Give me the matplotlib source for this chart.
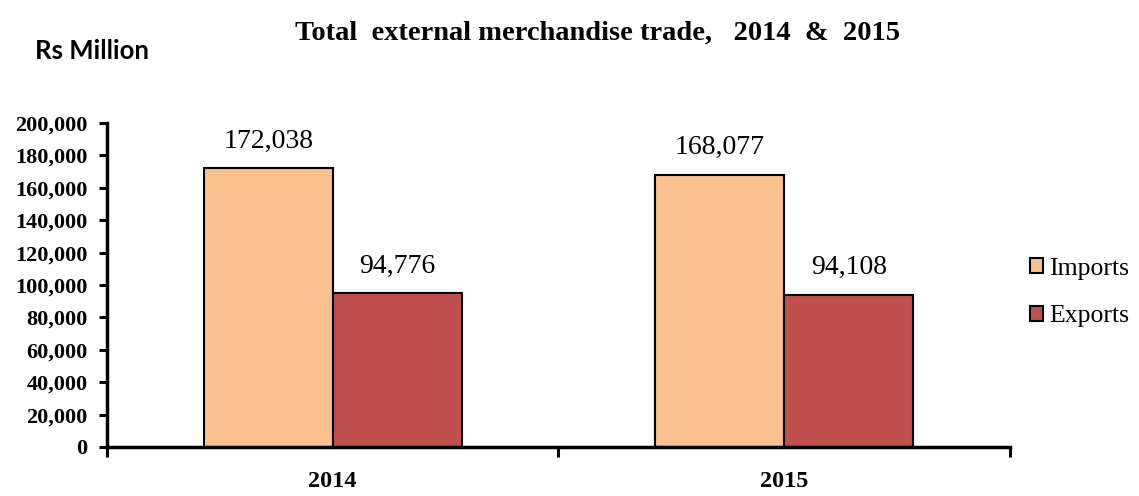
import matplotlib
matplotlib.use("Agg")
import matplotlib.pyplot as plt
import numpy as np

# data
years = ["2014", "2015"]
imports = [172038, 168077]
exports = [94776, 94108]
series_names = ["Imports", "Exports"]
yticks = list(range(0, 200001, 20000))

serif = "Liberation Serif"

fig = plt.figure(figsize=(11.39, 4.96), dpi=100)
ax = fig.add_axes([0.0939, 0.0988, 0.7928, 0.6532])

x = np.arange(len(years))
w = 0.286
b1 = ax.bar(x - w / 2, imports, w, color="#FAC090", edgecolor="black", linewidth=1.5, label=series_names[0])
b2 = ax.bar(x + w / 2, exports, w, color="#C0504D", edgecolor="black", linewidth=1.5, label=series_names[1])

for bars, vals in ((b1, imports), (b2, exports)):
    for r, v in zip(bars, vals):
        ax.text(r.get_x() + r.get_width() / 2, v + 9000, f"{v:,}", ha="center", va="bottom",
                fontsize=20, family=serif)

ax.set_xlim(-0.5, 1.5)
ax.set_ylim(0, 200000)
ax.set_yticks(yticks)
ax.set_yticklabels([f"{t:,}" for t in yticks], fontsize=16, family=serif, fontweight="bold")

# category boundaries as ticks, labels at centres
ax.set_xticks([-0.5, 0.5, 1.5])
ax.set_xticklabels([])
ax.set_xticks(x, minor=True)
ax.set_xticklabels(years, minor=True, fontsize=17.5, family=serif, fontweight="bold")
ax.tick_params(axis="x", which="minor", length=0, pad=17)
ax.tick_params(axis="x", which="major", length=7, width=2.2, direction="out")
ax.tick_params(axis="y", length=6, width=2.2, direction="out", pad=8)

for s in ("top", "right"):
    ax.spines[s].set_visible(False)
for s in ("left", "bottom"):
    ax.spines[s].set_linewidth(2.5)

fig.text(0.525, 0.933, "Total  external merchandise trade,   2014  &  2015", ha="center", va="center",
         fontsize=20.5, family=serif, fontweight="bold")
fig.text(0.031, 0.898, "Rs Million", ha="left", va="center", fontsize=18.5, family="Lato", fontweight="bold")

fig.legend(handles=[b1, b2], labels=series_names, loc="center left", bbox_to_anchor=(0.884, 0.41),
           frameon=False, handlelength=0.5, handleheight=0.5, handletextpad=0.25, labelspacing=1.0,
           prop={"family": serif, "size": 18.5})

fig.savefig("out.png", dpi=100)
